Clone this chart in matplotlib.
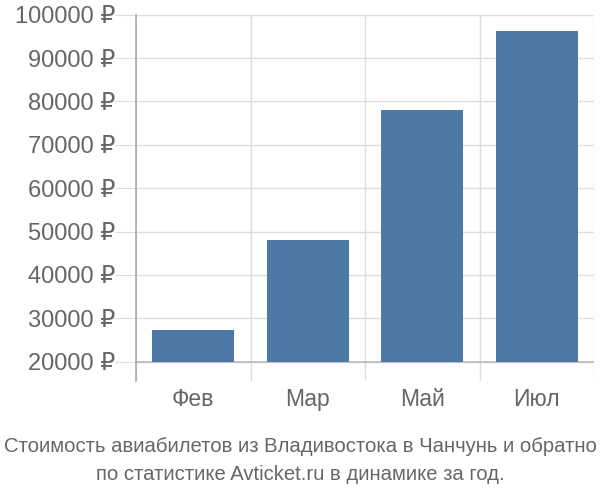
import matplotlib
matplotlib.use("Agg")
import matplotlib.pyplot as plt
import numpy as np

months = ["Фев", "Мар", "Май", "Июл"]
prices = [27400, 48000, 78000, 96200]
yticks = [20000, 30000, 40000, 50000, 60000, 70000, 80000, 90000, 100000]
ytick_labels = [f"{v} ₽" for v in yticks]

plt.rcParams['font.family'] = ['Liberation Sans', 'DejaVu Sans']

fig = plt.figure(figsize=(6, 5), dpi=100)
ax = fig.add_axes([136/600, 1-381/500, (594-136)/600, (381-14.7)/500])

x = np.arange(len(months))
ax.bar(x, np.array(prices) - 20000, bottom=20000, width=0.72, color="#4e79a7", zorder=3)

ax.set_xlim(-0.5, len(months) - 0.5)
ax.set_ylim(20000 - 19.3 / 347 * 80000, 100000)

ax.set_yticks(yticks)
ax.set_yticklabels(ytick_labels)
ax.set_xticks(x)
ax.set_xticklabels(months)
ax.set_xticks(np.arange(len(months) + 1) - 0.5, minor=True)

ax.grid(axis="y", which="major", color="#dddddd", linewidth=1, zorder=0)
ax.grid(axis="x", which="minor", color="#dddddd", linewidth=1, zorder=0)
ax.axhline(20000, color="#bbbbbb", linewidth=1.2, zorder=2)

ax.tick_params(axis="y", length=15, color="#dddddd", labelsize=17, labelcolor="#666666", pad=0)
ax.tick_params(axis="x", which="major", length=0, labelsize=16.5, labelcolor="#666666", pad=5)
ax.tick_params(axis="x", which="minor", length=0)

for s in ["top", "right", "bottom"]:
    ax.spines[s].set_visible(False)
ax.spines["left"].set_color("#aaaaaa")
ax.spines["left"].set_linewidth(1.2)

fig.text(0.5, 1 - 447/500, "Стоимость авиабилетов из Владивостока в Чанчунь и обратно",
         ha="center", va="center", fontsize=14.6, color="#666666")
fig.text(0.5, 1 - 475/500, "по статистике Avticket.ru в динамике за год.",
         ha="center", va="center", fontsize=14.6, color="#666666")

fig.savefig("out.png", dpi=100)
